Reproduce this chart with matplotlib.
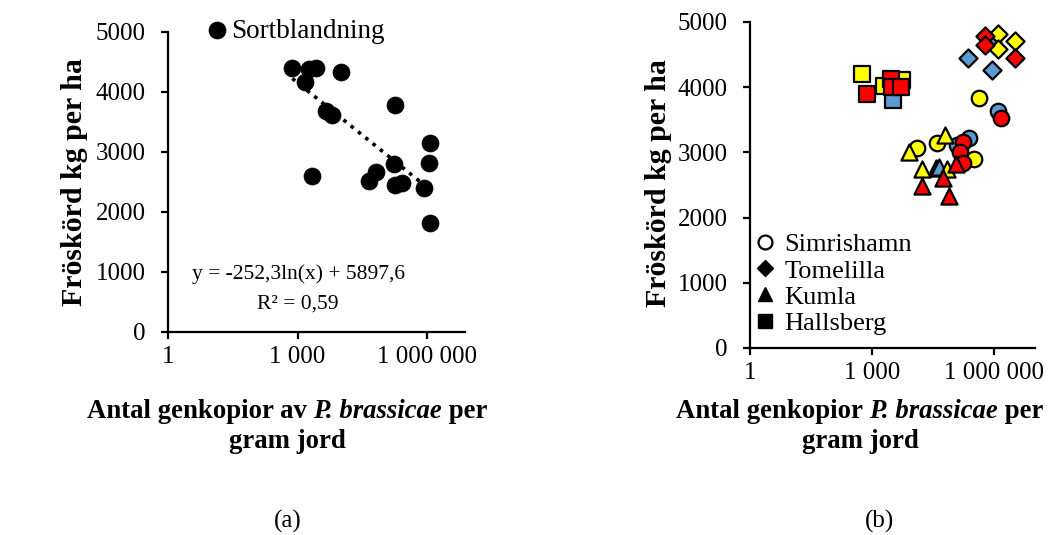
import matplotlib
matplotlib.use("Agg")
import matplotlib.pyplot as plt
from matplotlib.lines import Line2D
from matplotlib.ticker import FixedLocator, FixedFormatter
import numpy as np

plt.rcParams['font.family'] = ['Liberation Serif', 'DejaVu Serif']

# ---------------- data ----------------
# Panel (a): Sortblandning
a_x = [759, 1862, 2630, 1479, 10000, 4571, 6310, 177828, 1202264, 1096478,
       169824, 2138, 66069, 44668, 186209, 263027, 870964, 1174898]
a_y = [4395, 4378, 4395, 4172, 4328, 3680, 3620, 3783, 3155, 2811,
       2800, 2600, 2672, 2522, 2450, 2478, 2395, 1822]
trend_slope = -252.3
trend_intercept = 5897.6
eq_text = "y = -252,3ln(x) + 5897,6"
r2_text = "R² = 0,59"

# Panel (b): by location (marker) and colour group
locations = ["Simrishamn", "Tomelilla", "Kumla", "Hallsberg"]
loc_markers = {"Simrishamn": "o", "Tomelilla": "D", "Kumla": "^", "Hallsberg": "s"}
group_colors = {"blue": "#5B9BD5", "yellow": "#FFFF00", "red": "#FF0000"}

b_data = {
    "Simrishamn": {
        "blue":   ([123027, 239883, 1258925], [3113, 3216, 3635]),
        "yellow": ([12882, 39811, 316228, 426580], [3063, 3149, 2894, 3839]),
        "red":    ([173780, 144544, 165959, 1445440], [3164, 3011, 2833, 3532]),
    },
    "Tomelilla": {
        "blue":   ([891251, 229087, 870964], [4698, 4453, 4264]),
        "yellow": ([1202264, 1202264, 3235937], [4811, 4586, 4709]),
        "red":    ([588844, 588844, 3235937], [4790, 4647, 4443]),
    },
    "Kumla": {
        "blue":   ([37154, 43652], [2760, 2781]),
        "yellow": ([8128, 61660, 16982, 70795], [3011, 3267, 2741, 2741]),
        "red":    ([112202, 56234, 16982, 77625], [2818, 2603, 2485, 2331]),
    },
    "Hallsberg": {
        "blue":   ([3236], [3804]),
        "yellow": ([575, 1950, 5495], [4202, 4018, 4110]),
        "red":    ([759, 2884, 3162, 5012], [3896, 4121, 3998, 3998]),
    },
}

yticks = [0, 1000, 2000, 3000, 4000, 5000]
xticks = [1, 1000, 1000000]
xtick_labels = ["1", "1 000", "1 000 000"]
ylabel = "Fröskörd kg per ha"

# ---------------- figure ----------------
W, H = 1050, 535
fig = plt.figure(figsize=(W / 100, H / 100), dpi=100)


def px_axes(l, r, t, b):
    return fig.add_axes([l / W, 1 - b / H, (r - l) / W, (b - t) / H])


def style(ax, xmax):
    ax.set_xscale('log')
    ax.set_xlim(1, xmax)
    ax.set_ylim(0, 5000)
    for s in ['top', 'right']:
        ax.spines[s].set_visible(False)
    for s in ['left', 'bottom']:
        ax.spines[s].set_linewidth(1.6)
        ax.spines[s].set_color('black')
    ax.xaxis.set_major_locator(FixedLocator(xticks))
    ax.xaxis.set_major_formatter(FixedFormatter(xtick_labels))
    ax.xaxis.set_minor_locator(FixedLocator([]))
    ax.set_yticks(yticks)
    ax.set_yticklabels([str(v) for v in yticks])
    ax.tick_params(axis='y', direction='out', length=5, width=1.6, pad=11, labelsize=18)
    ax.tick_params(axis='x', direction='out', length=5, width=1.6, pad=5, labelsize=18)
    ax.patch.set_alpha(0)


# Panel (a)
axa = px_axes(168, 465, 32, 332)
style(axa, 10 ** 6.88)
xs = np.linspace(np.log(min(a_x)), np.log(max(a_x)), 100)
axa.plot(np.exp(xs), trend_slope * xs + trend_intercept, color='black',
         linestyle=(0, (1, 1.6)), linewidth=2.6, zorder=1)
axa.scatter(a_x, a_y, s=150, color='black', edgecolors='black', linewidths=0.5,
            zorder=2, label="Sortblandning")
axa.legend(loc='center left', bbox_to_anchor=(201 / W, 1 - 31 / H),
           bbox_transform=fig.transFigure, frameon=False, fontsize=19.5,
           handletextpad=-0.1, borderpad=0, borderaxespad=0, handlelength=1.2,
           scatterpoints=1)
fig.text(298 / W, 1 - 274 / H, eq_text, ha='center', va='center', fontsize=15.5)
fig.text(298 / W, 1 - 304 / H, r2_text, ha='center', va='center', fontsize=15.5)

# Panel (b)
axb = px_axes(750, 1035, 22, 348)
style(axb, 1e7)
for loc in locations:
    for grp in ["blue", "yellow", "red"]:
        xv, yv = b_data[loc][grp]
        mk = loc_markers[loc]
        size = {"o": 125, "D": 85, "^": 135, "s": 135}[mk]
        axb.scatter(xv, yv, s=size, marker=mk, color=group_colors[grp],
                    edgecolors='black', linewidths=1.6, zorder=2)

handles = [
    Line2D([], [], linestyle='none', marker='o', markersize=10,
           markerfacecolor='white', markeredgecolor='black', markeredgewidth=1.6),
    Line2D([], [], linestyle='none', marker='D', markersize=8.5,
           markerfacecolor='black', markeredgecolor='black'),
    Line2D([], [], linestyle='none', marker='^', markersize=10,
           markerfacecolor='black', markeredgecolor='black'),
    Line2D([], [], linestyle='none', marker='s', markersize=10,
           markerfacecolor='black', markeredgecolor='black'),
]
axb.legend(handles, locations, loc='upper left',
           bbox_to_anchor=(753 / W, 1 - 233 / H), bbox_transform=fig.transFigure,
           frameon=False, fontsize=19, handletextpad=0.3, borderpad=0,
           borderaxespad=0, handlelength=0.9, labelspacing=0.1)

# Axis labels
fig.text(75 / W, 1 - 182 / H, ylabel, rotation=90, ha='center', va='center',
         fontsize=21.5, fontweight='bold')
fig.text(658 / W, 1 - 183 / H, ylabel, rotation=90, ha='center', va='center',
         fontsize=21.5, fontweight='bold')


def rich_line(xc, yc, parts, size):
    """Draw a centered line of text made of (string, style) parts."""
    fig.canvas.draw()
    r = fig.canvas.get_renderer()
    texts = []
    for s, st in parts:
        t = fig.text(0, 1 - yc / H, s, fontsize=size, fontweight='bold',
                     fontstyle=st, ha='left', va='center')
        texts.append(t)
    widths = [t.get_window_extent(renderer=r).width for t in texts]
    total = sum(widths)
    x = xc - total / 2
    for t, w in zip(texts, widths):
        t.set_x(x / W)
        x += w


rich_line(287, 411, [("Antal genkopior av ", 'normal'), ("P. brassicae", 'italic'),
                     (" per", 'normal')], 19.3)
fig.text(287 / W, 1 - 441 / H, "gram jord", ha='center', va='center',
         fontsize=19.3, fontweight='bold')
rich_line(860, 411, [("Antal genkopior ", 'normal'), ("P. brassicae", 'italic'),
                     (" per", 'normal')], 19.3)
fig.text(860 / W, 1 - 441 / H, "gram jord", ha='center', va='center',
         fontsize=19.3, fontweight='bold')

fig.text(288 / W, 1 - 521 / H, "(a)", ha='center', va='center', fontsize=18)
fig.text(880 / W, 1 - 521 / H, "(b)", ha='center', va='center', fontsize=18)

fig.savefig("out.png", dpi=100)
